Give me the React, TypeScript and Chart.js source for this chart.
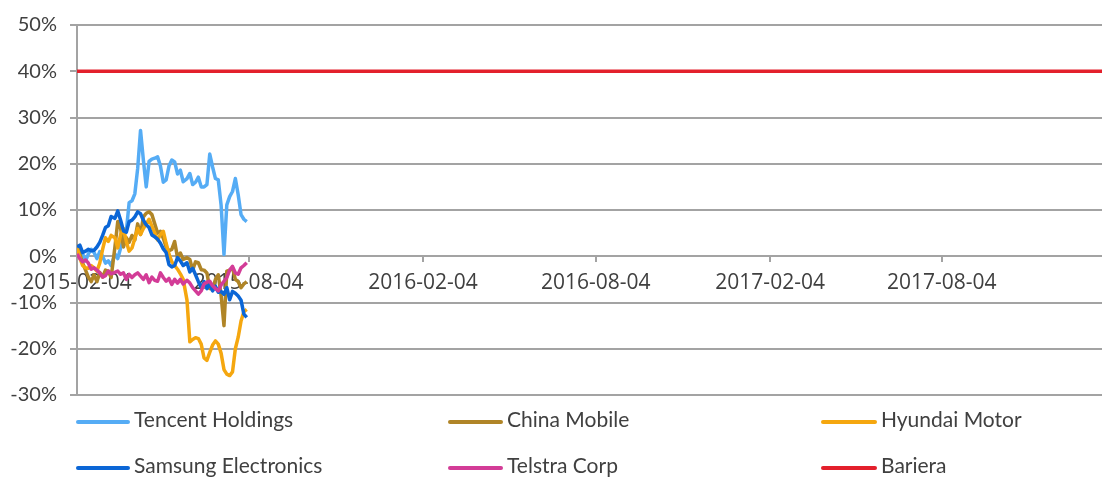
import React, { useEffect, useRef } from "react";
import { Chart, registerables } from "chart.js";

Chart.register(...registerables);

// Day offsets from 2015-02-04
const dayOffsets = [
  0, 3, 6, 9, 12, 15, 18, 21, 24, 27, 30, 33, 36, 40, 43, 46, 49, 52, 55, 58,
  61, 64, 67, 70, 73, 76, 79, 82, 85, 88, 91, 94, 97, 100, 103, 106, 109, 112, 116, 119,
  122, 125, 128, 131, 134, 137, 140, 143, 146, 149, 152, 155, 158, 161, 164, 167, 170, 173, 176, 179,
];

const tencent = [
  0, 1.0, 0.5, -1.0, 0.5, 1.5, 0.8, -0.5, 1.0, 0.0, -1.5, -1.0, -2.0, 0.5, -0.5, 1.8, 4.7, 5.4, 11.6, 12.0,
  13.5, 19.0, 27.2, 20.8, 15.0, 20.5, 21.0, 21.2, 21.5, 19.5, 16.0, 16.5, 19.5, 20.8, 20.4, 17.8, 18.6, 16.1, 16.8, 17.9,
  15.5, 16.0, 17.1, 15.0, 15.0, 15.5, 22.1, 19.3, 16.8, 16.5, 11.0, 0.4, 11.1, 12.9, 14.0, 16.8, 13.3, 9.0, 8.0, 7.5,
];

const chinaMobile = [
  2.5, 0.5, -1.5, -3.0, -4.5, -5.5, -4.0, -5.5, -3.5, -4.5, -3.0, -3.2, -4.6, 2.0, 7.5, 6.0, 2.0, 4.0, 3.0, 4.5,
  3.5, 7.0, 4.7, 8.5, 9.3, 9.6, 9.0, 7.0, 5.0, 5.4, 3.9, 2.0, 1.2, 1.5, 3.2, -0.3, 0.7, -0.7, -0.3, -0.7,
  -3.0, -1.2, -1.4, -2.9, -3.0, -3.6, -7.0, -7.1, -5.0, -4.0, -8.5, -15.0, -3.2, -3.0, -2.5, -5.0, -5.5, -6.8, -6.0, -5.5,
];

const hyundai = [
  2.0, -0.4, -2.0, -2.5, -2.6, -2.0, -2.5, -3.2, -1.5, 1.5, 4.0, 3.2, 4.5, 4.0, 1.8, 4.7, 6.0, 3.2, 1.1, 1.8,
  3.9, 6.0, 4.7, 6.0, 7.0, 8.0, 6.5, 5.0, 3.5, 4.7, 5.4, 2.8, 0.5, -1.2, -2.0, -2.8, -3.8, -5.0, -9.5, -18.5,
  -18.0, -17.6, -17.8, -19.0, -22.0, -22.5, -20.8, -19.2, -18.3, -19.0, -21.0, -24.5, -25.5, -25.8, -25.0, -20.0, -17.5, -14.0, -12.0, -11.5,
];

const samsung = [
  2.0, 2.4, 0.8, 1.1, 1.5, 1.2, 1.3, 2.0, 3.0, 4.5, 6.2, 6.6, 8.6, 8.2, 9.8, 7.8, 5.5, 5.2, 7.5, 7.8,
  8.5, 9.6, 9.2, 7.8, 6.8, 6.2, 4.6, 4.2, 3.7, 2.8, 1.6, 0.8, -1.8, -2.3, -2.0, -0.3, -1.0, -2.0, -1.4, -3.4,
  -2.6, -4.0, -5.5, -6.8, -5.5, -7.0, -6.0, -7.5, -6.5, -7.8, -7.6, -8.2, -6.8, -9.4, -7.6, -8.0, -8.6, -9.5, -12.5, -13.2,
];

const telstra = [
  0.5, -0.5, -1.2, -0.8, -1.5, -2.8, -2.5, -3.0, -3.6, -4.5, -4.2, -3.2, -3.8, -3.5, -3.2, -3.9, -3.6, -5.0, -3.9, -4.6,
  -4.0, -3.6, -4.3, -5.0, -4.0, -5.7, -4.5, -5.2, -5.4, -3.6, -4.6, -5.4, -4.8, -6.1, -5.0, -5.8, -5.0, -6.0, -5.2, -5.8,
  -6.8, -7.5, -8.2, -7.5, -6.0, -5.6, -5.4, -6.4, -7.0, -7.5, -6.2, -5.4, -4.6, -3.0, -2.2, -3.6, -3.9, -2.5, -2.0, -1.4,
];

const barrierDays = [0, 1081];
const barrierValues = [40, 40];

const xTickDays = [0, 181, 365, 547, 731, 912];
const xTickLabels = ["2015-02-04", "2015-08-04", "2016-02-04", "2016-08-04", "2017-02-04", "2017-08-04"];

const seriesNames = ["Tencent Holdings", "China Mobile", "Hyundai Motor", "Samsung Electronics", "Telstra Corp", "Bariera"];
const seriesColors = ["#55acf5", "#b08527", "#f5a70f", "#0b66d6", "#d33c97", "#e3202c"];

const GRID = "#a3a3a3";
const TEXT = "#404040";

export default function App() {
  const ref = useRef<HTMLCanvasElement | null>(null);

  useEffect(() => {
    const canvas = ref.current;
    if (!canvas) return;
    const stockSeries = [tencent, chinaMobile, hyundai, samsung, telstra];
    const datasets: any[] = stockSeries.map((vals, i) => ({
      label: seriesNames[i],
      data: dayOffsets.map((d, j) => ({ x: d, y: vals[j] })),
      borderColor: seriesColors[i],
      backgroundColor: seriesColors[i],
      borderWidth: 3.5,
      pointRadius: 0,
      tension: 0,
      fill: false,
      borderJoinStyle: "round",
      order: 6 - i,
    }));
    datasets.push({
      label: seriesNames[5],
      data: barrierDays.map((d, j) => ({ x: d, y: barrierValues[j] })),
      borderColor: seriesColors[5],
      backgroundColor: seriesColors[5],
      borderWidth: 3.5,
      pointRadius: 0,
      fill: false,
      order: 0,
    });

    const chart = new Chart(canvas, {
      type: "line",
      data: { datasets },
      options: {
        animation: false,
        responsive: false,
        devicePixelRatio: 1,
        layout: { autoPadding: false, padding: { top: 22, bottom: 82, left: 0, right: 0 } },
        plugins: { legend: { display: false }, tooltip: { enabled: false } },
        scales: {
          x: {
            type: "linear",
            position: { y: 0 } as any,
            min: 0,
            max: 1081,
            z: 1,
            afterBuildTicks: (scale: any) => {
              scale.ticks = xTickDays.map((v) => ({ value: v }));
            },
            ticks: {
              autoSkip: false,
              maxRotation: 0,
              minRotation: 0,
              padding: 8,
              color: TEXT,
              font: { family: "'Open Sans'", size: 21 },
              callback: (v: any) => {
                const idx = xTickDays.indexOf(Number(v));
                return idx >= 0 ? xTickLabels[idx] : "";
              },
            },
            grid: { drawOnChartArea: false, drawTicks: true, tickLength: 6, color: GRID, lineWidth: 2 },
            border: { display: false },
          },
          y: {
            min: -30,
            max: 50,
            afterFit: (scale: any) => {
              scale.width = 77;
            },
            ticks: {
              stepSize: 10,
              padding: 13,
              color: TEXT,
              font: { family: "Lato", size: 20 },
              callback: (v: any) => `${v}%`,
            },
            grid: { color: GRID, lineWidth: 2, tickLength: 7, drawTicks: true },
            border: { display: true, color: GRID, width: 2 },
          },
        },
      },
    });
    return () => chart.destroy();
  }, []);

  const legendCols = [
    { line: 76, text: 134 },
    { line: 448, text: 507 },
    { line: 821, text: 881 },
  ];
  const legendRows = [420, 466];

  return (
    <div style={{ position: "fixed", left: 0, top: 0, width: 1102, height: 477, background: "#fff" }}>
      <canvas ref={ref} width={1102} height={477} style={{ display: "block", width: 1102, height: 477 }} />
      {seriesNames.map((name, i) => {
        const col = legendCols[i % 3];
        const row = legendRows[Math.floor(i / 3)];
        return (
          <div key={name}>
            <div
              style={{
                position: "absolute",
                left: col.line,
                top: row,
                width: col.text - col.line - 4,
                height: 4,
                borderRadius: 2,
                background: seriesColors[i],
              }}
            />
            <div
              style={{
                position: "absolute",
                left: col.text,
                top: row - 13,
                fontFamily: "Lato",
                fontSize: 21,
                lineHeight: "24px",
                color: TEXT,
                whiteSpace: "nowrap",
              }}
            >
              {name}
            </div>
          </div>
        );
      })}
    </div>
  );
}
